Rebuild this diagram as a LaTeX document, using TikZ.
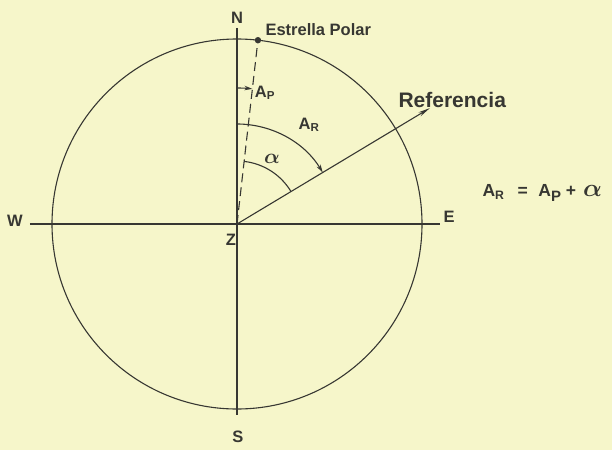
\documentclass[tikz,border=0pt]{standalone}
\usepackage{fontspec}
\setmainfont{Liberation Sans}
\usetikzlibrary{arrows.meta}
\definecolor{paper}{RGB}{246,246,202}
\definecolor{ink}{RGB}{55,55,50}
\begin{document}
\begin{tikzpicture}[x=1pt,y=1pt,ink,line width=1.1pt,
    lbl/.style={text=ink,font=\fontsize{16.5}{18}\selectfont\bfseries\boldmath,inner sep=1pt},
    arcarrow/.style={-{Stealth[length=8pt,width=4.5pt]}}]
        \fill[paper] (-237,-226) rectangle (375,224);
        \useasboundingbox (-237,-226) rectangle (375,224);

            \coordinate (Z) at (0,0);
            \draw (Z) circle [radius=185];
            \coordinate (west) at (-207,0);
            \coordinate (east) at (203,0);
            \coordinate (north) at (0,196);
            \coordinate (south) at (0,-191);
            \draw (west)--(east);
            \draw (north)--(south);

            % estrella polar
            \coordinate (polar) at (83.5:185);
            \fill (polar) circle [radius=3.2];
            \draw[dashed,dash pattern=on 9pt off 5pt] (Z)--(polar);

            % linea de referencia
            \coordinate (ref) at (31:225);
            \draw[-{Stealth[length=12pt,width=4.5pt]}] (Z)--(ref);

            % angulos
            \draw[arcarrow] (90:136) arc [start angle=90,end angle=83.5,radius=136];
            \draw[arcarrow] (90:100) arc [start angle=90,end angle=31,radius=100];
            \draw (83.5:63) arc [start angle=83.5,end angle=31,radius=63];

            \foreach \name/\pos/\txt in {N/{(0,206)}/N, S/{(1,-213)}/S, W/{(-222,3)}/W,
                                          E/{(212,7)}/E, Zl/{(-6,-16)}/Z}{
              \node[lbl] (\name) at \pos {\txt};
            }

            \node[lbl,anchor=west] (estrella) at (27,194) {Estrella Polar};
            \node[lbl,anchor=west,font=\fontsize{21}{23}\selectfont\bfseries] (referencia) at (160,124) {Referencia};
            \node[lbl] (AP) at (28,131) {A\textsubscript{P}};
            \node[lbl] (AR) at (72,99) {A\textsubscript{R}};
            \node[lbl,font=\fontsize{22}{24}\selectfont\boldmath] (alfa) at (35,65) {$\alpha$};
            \node[lbl,anchor=west,font=\fontsize{17.5}{19}\selectfont\bfseries\boldmath] (formula) at (244,31)
              {A\textsubscript{R}\hspace{0.75em}=\hspace{0.6em}A\textsubscript{\fontsize{15}{15}\selectfont P}\hspace{0.25em}+\hspace{0.4em}{\fontsize{29}{29}\selectfont$\alpha$}};
        \end{tikzpicture}
\end{document}
